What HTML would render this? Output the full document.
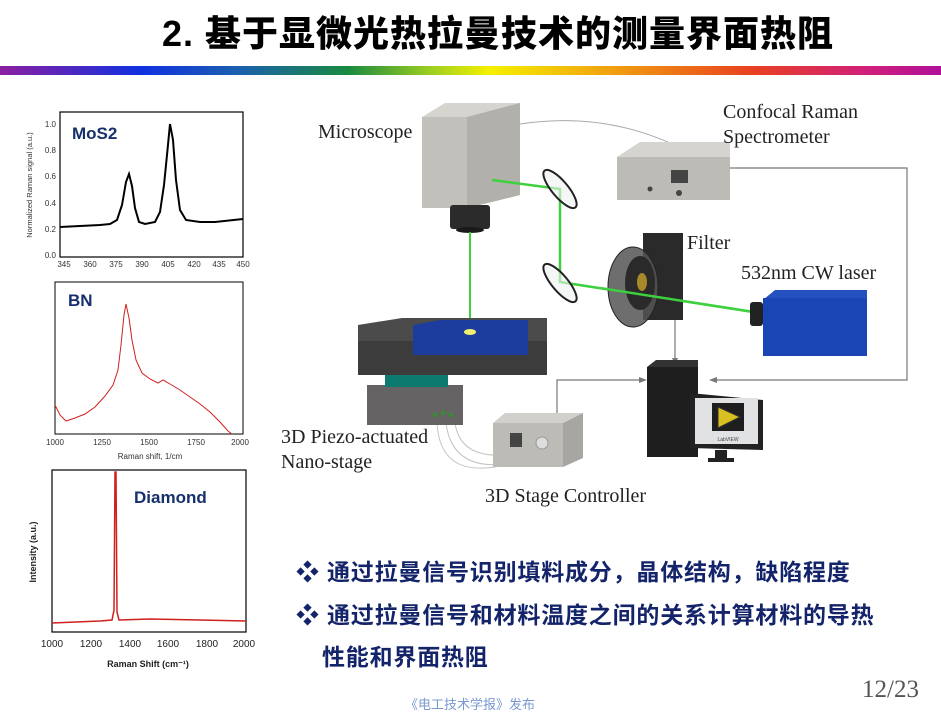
<!DOCTYPE html>
<html><head><meta charset="utf-8"><style>
html,body{margin:0;padding:0;background:#fff;}
body{width:941px;height:713px;position:relative;overflow:hidden;font-family:"Liberation Sans","Noto Sans CJK SC",sans-serif;}
.t{position:absolute;white-space:nowrap;}
.title{left:162px;top:12px;font-size:36px;font-weight:900;letter-spacing:1px;color:#000;font-family:"Liberation Sans","Noto Sans CJK SC",sans-serif;line-height:44px;}
.bar{position:absolute;left:0;top:66px;width:941px;height:9px;background:linear-gradient(to right,#8b1fa0 0%,#1030e0 15%,#1a5fb0 25%,#1a8a40 37%,#a0d020 46%,#f5f000 52%,#f0a010 65%,#e84020 80%,#d0207a 92%,#b0109a 100%);}
.b{font-size:23px;font-weight:bold;color:#14246a;letter-spacing:0.8px;font-family:"Liberation Sans","Noto Sans CJK SC",sans-serif;line-height:30px;}
.serif{font-family:"Liberation Serif",serif;color:#222;font-size:20px;line-height:24px;}
</style></head><body>
<div class="t title">2. 基于显微光热拉曼技术的测量界面热阻</div>
<div class="bar"></div>

<svg width="941" height="713" style="position:absolute;left:0;top:0" xmlns="http://www.w3.org/2000/svg">
<!-- MoS2 chart -->
<rect x="60" y="112" width="183" height="145" fill="none" stroke="#000" stroke-width="1.2"/>
<g font-family="Liberation Sans" font-size="8" fill="#333" text-anchor="end">
<text x="56" y="127">1.0</text><text x="56" y="153">0.8</text><text x="56" y="179">0.6</text><text x="56" y="206">0.4</text><text x="56" y="232">0.2</text><text x="56" y="258">0.0</text>
</g>
<g font-family="Liberation Sans" font-size="8" fill="#333" text-anchor="middle">
<text x="64" y="267">345</text><text x="90" y="267">360</text><text x="116" y="267">375</text><text x="142" y="267">390</text><text x="168" y="267">405</text><text x="194" y="267">420</text><text x="219" y="267">435</text><text x="243" y="267">450</text>
</g>
<text x="32" y="185" font-family="Liberation Sans" font-size="7.5" fill="#333" text-anchor="middle" transform="rotate(-90 32 185)">Normalized Raman signal (a.u.)</text>
<path d="M60,227 L100,225 L110,224 L117,220 L122,205 L126,182 L129,174 L132,186 L135,208 L139,222 L145,224 L155,222 L160,212 L164,185 L167,155 L170,124 L173,140 L176,180 L180,210 L186,220 L200,222 L215,222 L243,219" fill="none" stroke="#000" stroke-width="2"/>
<text x="72" y="139" font-family="Liberation Sans" font-size="17" font-weight="bold" fill="#16306e">MoS2</text>

<!-- BN chart -->
<rect x="55" y="282" width="188" height="152" fill="none" stroke="#000" stroke-width="1"/>
<g font-family="Liberation Sans" font-size="8" fill="#333" text-anchor="middle">
<text x="55" y="445">1000</text><text x="102" y="445">1250</text><text x="149" y="445">1500</text><text x="196" y="445">1750</text><text x="240" y="445">2000</text>
</g>
<text x="150" y="459" font-family="Liberation Sans" font-size="8" fill="#333" text-anchor="middle">Raman shift, 1/cm</text>
<path d="M55,405 L60,415 L66,421 L75,418 L85,414 L95,407 L105,396 L113,385 L118,370 L121,345 L124,315 L126,304 L129,318 L132,340 L136,360 L142,373 L150,379 L158,383 L163,380 L170,384 L180,390 L190,397 L200,404 L210,412 L220,422 L228,431 L232,434" fill="none" stroke="#d02020" stroke-width="1"/>
<text x="68" y="306" font-family="Liberation Sans" font-size="17" font-weight="bold" fill="#16306e">BN</text>

<!-- Diamond chart -->
<rect x="52" y="470" width="194" height="162" fill="none" stroke="#000" stroke-width="1.2"/>
<g font-family="Liberation Sans" font-size="10" fill="#222" text-anchor="middle">
<text x="52" y="647">1000</text><text x="91" y="647">1200</text><text x="130" y="647">1400</text><text x="168" y="647">1600</text><text x="207" y="647">1800</text><text x="244" y="647">2000</text>
</g>
<text x="148" y="667" font-family="Liberation Sans" font-size="9" font-weight="bold" fill="#222" text-anchor="middle">Raman Shift (cm⁻¹)</text>
<text x="36" y="552" font-family="Liberation Sans" font-size="9" font-weight="bold" fill="#222" text-anchor="middle" transform="rotate(-90 36 552)">Intensity (a.u.)</text>
<path d="M52,623 L100,621 L112,620 L114,610 L115,472 L116,472 L117,612 L119,620 L150,619 L200,620 L246,621" fill="none" stroke="#d02020" stroke-width="1.5"/>
<text x="134" y="503" font-family="Liberation Sans" font-size="17" font-weight="bold" fill="#16306e">Diamond</text>

<!-- connectors -->
<path d="M520,124 Q600,112 670,143" fill="none" stroke="#aaa" stroke-width="1"/>
<path d="M730,168 L907,168 L907,380 L712,380" fill="none" stroke="#777" stroke-width="1.2"/>
<path d="M709,380 l8,-3 v6 z" fill="#777"/>
<path d="M675,320 L675,360" stroke="#777" stroke-width="1.2"/>
<path d="M675,365 l-3,-7 h6 z" fill="#777"/>
<path d="M557,413 L557,380 L642,380" fill="none" stroke="#777" stroke-width="1.2"/>
<path d="M647,380 l-8,-3 v6 z" fill="#777"/>
<path d="M437,423 Q440,478 500,466 M446,423 Q452,470 505,464 M455,423 Q460,458 505,455" fill="none" stroke="#c4c4c4" stroke-width="1"/>

<!-- microscope -->
<polygon points="422,117 445,103 520,103 467,117" fill="#d6d4ce"/>
<polygon points="422,117 467,117 520,103 520,195 467,208 422,208" fill="#c2c0ba"/>
<polygon points="467,117 520,103 520,195 467,208" fill="#b2b0ab"/>
<rect x="450" y="205" width="40" height="24" rx="3" fill="#2b2b2b"/>
<ellipse cx="470" cy="230" rx="14" ry="3" fill="#1a1a1a"/>

<!-- spectrometer -->
<polygon points="617,157 640,142 730,142 730,157" fill="#d6d4d0"/>
<rect x="617" y="157" width="113" height="43" fill="#bdbbb6"/>
<rect x="671" y="170" width="17" height="13" fill="#444"/>
<circle cx="650" cy="189" r="2.5" fill="#444"/><circle cx="679" cy="193" r="3" fill="#444"/>

<!-- beams -->
<path d="M492,180 L560,189 L560,282 L760,313" fill="none" stroke="#3ed03e" stroke-width="2.5"/>
<path d="M470,232 L470,332" stroke="#3ed03e" stroke-width="2"/>

<!-- mirrors -->
<ellipse cx="560" cy="189" rx="24" ry="8" transform="rotate(50 560 189)" fill="#eef2f0" fill-opacity="0.6" stroke="#222" stroke-width="2"/>
<ellipse cx="560" cy="283" rx="24" ry="8" transform="rotate(50 560 283)" fill="#eef2f0" fill-opacity="0.6" stroke="#222" stroke-width="2"/>

<!-- filter -->
<rect x="643" y="233" width="40" height="87" fill="#2a2a2a"/>
<ellipse cx="633" cy="287" rx="25" ry="40" fill="#555" fill-opacity="0.85" stroke="#222"/>
<ellipse cx="640" cy="283" rx="15" ry="27" fill="#2a2a2a"/>
<ellipse cx="642" cy="282" rx="5" ry="9" fill="#a88a2a"/>
<path d="M600,288 L760,313" stroke="#3ed03e" stroke-width="2.5"/>

<!-- laser -->
<rect x="750" y="302" width="13" height="24" rx="3" fill="#222"/>
<polygon points="763,300 775,290 867,290 867,300" fill="#2450c0"/>
<rect x="763" y="298" width="104" height="58" fill="#1a45b5"/>

<!-- stage -->
<polygon points="358,343 358,325 402,318 547,318 547,343" fill="#4b4b4b"/>
<rect x="358" y="341" width="189" height="34" fill="#3c3c3c"/>
<polygon points="413,355 413,325 440,320 528,320 528,355" fill="#1c3d9e"/>
<ellipse cx="470" cy="332" rx="6" ry="3" fill="#f0f070"/>
<rect x="385" y="375" width="63" height="22" fill="#0d7a70"/>
<rect x="367" y="385" width="96" height="40" fill="#656363"/>
<rect x="385" y="375" width="63" height="12" fill="#0d7a70"/>
<circle cx="435" cy="415" r="2.5" fill="#3a8a3a"/><circle cx="443" cy="413" r="2.5" fill="#3a8a3a"/><circle cx="451" cy="415" r="2.5" fill="#3a8a3a"/>

<!-- controller -->
<polygon points="493,423 505,413 583,413 563,423" fill="#d2d0cc"/>
<rect x="493" y="423" width="70" height="44" fill="#bdbbb6"/>
<polygon points="563,423 583,413 583,458 563,467" fill="#a8a6a2"/>
<rect x="510" y="433" width="12" height="14" fill="#444"/>
<circle cx="542" cy="443" r="6" fill="#ddd" stroke="#999"/>

<!-- computer -->
<rect x="647" y="367" width="51" height="90" fill="#1e1e1e"/>
<polygon points="647,367 656,360 698,360 698,367" fill="#333"/>
<polygon points="690,393 763,400 763,450 690,448" fill="#222"/>
<rect x="695" y="398" width="63" height="46" fill="#e0e2e4"/>
<rect x="712" y="403" width="32" height="28" fill="#1e1e1e"/>
<polygon points="718,407 740,417 718,428" fill="#d8c020" stroke="#333"/>
<rect x="715" y="450" width="12" height="8" fill="#222"/>
<rect x="708" y="458" width="26" height="4" fill="#222"/>
<text x="728" y="441" font-family="Liberation Sans" font-size="5" fill="#444" text-anchor="middle">LabVIEW</text>
</svg>

<div class="t serif" style="left:318px;top:120px;">Microscope</div>
<div class="t serif" style="left:723px;top:100px;">Confocal Raman</div>
<div class="t serif" style="left:723px;top:125px;">Spectrometer</div>
<div class="t serif" style="left:687px;top:231px;">Filter</div>
<div class="t serif" style="left:741px;top:261px;">532nm CW laser</div>
<div class="t serif" style="left:281px;top:425px;">3D Piezo-actuated</div>
<div class="t serif" style="left:281px;top:450px;">Nano-stage</div>
<div class="t serif" style="left:485px;top:484px;">3D Stage Controller</div>

<div class="t b" style="left:296px;top:557px;">❖ 通过拉曼信号识别填料成分，晶体结构，缺陷程度</div>
<div class="t b" style="left:296px;top:600px;">❖ 通过拉曼信号和材料温度之间的关系计算材料的导热</div>
<div class="t b" style="left:322px;top:642px;">性能和界面热阻</div>

<div class="t" style="left:405px;top:694px;font-size:13px;color:#7a98d0;font-family:'Liberation Sans','Noto Sans CJK SC',sans-serif;">《电工技术学报》发布</div>
<div class="t" style="left:862px;top:676px;font-size:25px;color:#555;font-family:'Liberation Serif',serif;">12/23</div>
</body></html>
